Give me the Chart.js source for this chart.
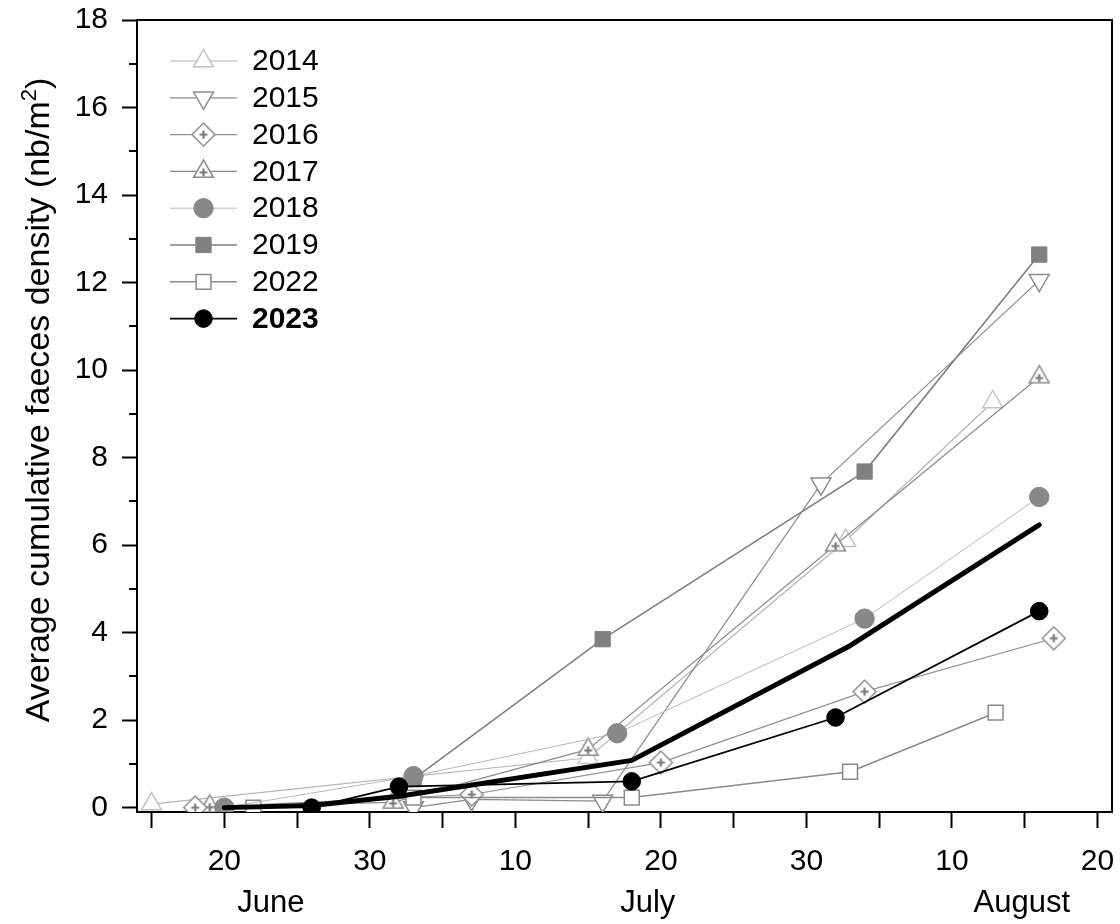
<!DOCTYPE html>
<html>
<head>
<meta charset="utf-8">
<script src="https://cdn.jsdelivr.net/npm/chart.js@4.4.1/dist/chart.umd.min.js"></script>
<style>
  html, body { margin: 0; padding: 0; background: #fff; }
  #wrap { width: 1120px; height: 924px; }
</style>
</head>
<body>
<div id="wrap"><canvas id="c" width="1120" height="924"></canvas></div>
<script>
// Day numbers on the x axis: 20 = 20 June, 30 = 30 June, 40 = "10" July, ...
const days2014 = [15, 45, 62.7, 72.8];
const vals2014 = [0.08, 1.14, 6.1, 9.27];

const days2015 = [33, 37, 46, 61, 76];
const vals2015 = [0.0, 0.19, 0.15, 7.4, 12.05];

const days2016 = [18, 37, 50, 64, 77];
const vals2016 = [0.0, 0.3, 1.03, 2.65, 3.87];

const days2017 = [19, 31.6, 45, 62, 76];
const vals2017 = [0.03, 0.12, 1.33, 6.0, 9.84];

const days2018 = [20, 33, 47, 64, 76];
const vals2018 = [0.0, 0.72, 1.7, 4.32, 7.1];

const days2019 = [33, 46, 64, 76];
const vals2019 = [0.65, 3.85, 7.68, 12.64];

const days2022 = [22, 33, 48, 63, 73];
const vals2022 = [0.0, 0.23, 0.23, 0.82, 2.17];

const days2023 = [26, 32, 48, 62, 76];
const vals2023 = [0.0, 0.48, 0.6, 2.06, 4.49];

// average of the years
const daysMean = [20, 26, 32, 48, 63, 76];
const valsMean = [0.0, 0.05, 0.26, 1.08, 3.7, 6.46];

const xTickDays = [15, 20, 25, 30, 35, 40, 45, 50, 55, 60, 65, 70, 75, 80];
const xLabelDays = [20, 30, 40, 50, 60, 70, 80];
const xLabelText = ['20', '30', '10', '20', '30', '10', '20'];
const monthDays = [23.2, 49.1, 74.8];
const monthNames = ['June', 'July', 'August'];
const yTickValues = [0, 1, 2, 3, 4, 5, 6, 7, 8, 9, 10, 11, 12, 13, 14, 15, 16, 17, 18];
const legendYears = ['2014', '2015', '2016', '2017', '2018', '2019', '2022', '2023'];
const yTitleMain = 'Average cumulative faeces density (nb/m';
const yTitleSup = '2';
const yTitleEnd = ')';

const FONT = "'Liberation Sans', Arial, sans-serif";

function pairs(xs, ys) { return xs.map((x, i) => ({ x: x, y: ys[i] })); }

// open diamond with a small cross inside
function diamondPlus(r, stroke, cross) {
  const s = Math.ceil(r * 2 + 4);
  const cv = document.createElement('canvas');
  cv.width = s; cv.height = s;
  const g = cv.getContext('2d');
  const c = s / 2;
  g.beginPath();
  g.moveTo(c, c - r); g.lineTo(c + r, c); g.lineTo(c, c + r); g.lineTo(c - r, c); g.closePath();
  g.fillStyle = '#fff'; g.fill();
  g.lineWidth = 1.5; g.strokeStyle = stroke; g.stroke();
  g.beginPath();
  g.moveTo(c - 4, c); g.lineTo(c + 4, c); g.moveTo(c, c - 4); g.lineTo(c, c + 4);
  g.lineWidth = 2.2; g.strokeStyle = cross; g.stroke();
  return cv;
}

// open triangle with a small cross inside
function trianglePlus(r, stroke, cross) {
  const s = Math.ceil(r * 2 + 4);
  const cv = document.createElement('canvas');
  cv.width = s; cv.height = s;
  const g = cv.getContext('2d');
  const c = s / 2;
  const h = r * Math.sin(Math.PI / 3);
  g.beginPath();
  g.moveTo(c, c - r); g.lineTo(c + h, c + r / 2); g.lineTo(c - h, c + r / 2); g.closePath();
  g.fillStyle = '#fff'; g.fill();
  g.lineWidth = 1.5; g.strokeStyle = stroke; g.stroke();
  g.beginPath();
  g.moveTo(c - 4, c + 1); g.lineTo(c + 4, c + 1); g.moveTo(c, c - 3); g.lineTo(c, c + 5);
  g.lineWidth = 2.2; g.strokeStyle = cross; g.stroke();
  return cv;
}

const marker2016 = diamondPlus(11.5, '#8c8c8c', '#7a7a7a');
const marker2017 = trianglePlus(11.5, '#8c8c8c', '#7a7a7a');

const datasets = [
  { label: '2023', data: pairs(days2023, vals2023), borderColor: '#000', borderWidth: 1.8,
    pointStyle: 'circle', pointRadius: 8.8, pointBackgroundColor: '#000', pointBorderColor: '#000', pointBorderWidth: 1, order: 0 },
  { label: 'Mean', data: pairs(daysMean, valsMean), borderColor: '#000', borderWidth: 5,
    borderCapStyle: 'round', borderJoinStyle: 'round', pointRadius: 0, order: 1 },
  { label: '2018', data: pairs(days2018, vals2018), borderColor: '#b8b8b8', borderWidth: 1,
    pointStyle: 'circle', pointRadius: 9.7, pointBackgroundColor: '#888', pointBorderColor: '#888', pointBorderWidth: 1, order: 2 },
  { label: '2019', data: pairs(days2019, vals2019), borderColor: '#808080', borderWidth: 1.6,
    pointStyle: 'rect', pointRadius: 10.8, pointBackgroundColor: '#808080', pointBorderColor: '#808080', pointBorderWidth: 1, order: 3 },
  { label: '2022', data: pairs(days2022, vals2022), borderColor: '#8a8a8a', borderWidth: 1.6,
    pointStyle: 'rect', pointRadius: 10.5, pointBackgroundColor: '#fff', pointBorderColor: '#8a8a8a', pointBorderWidth: 1.5, order: 4 },
  { label: '2016', data: pairs(days2016, vals2016), borderColor: '#909090', borderWidth: 1.2,
    pointStyle: marker2016, pointRadius: 11.5, order: 5 },
  { label: '2017', data: pairs(days2017, vals2017), borderColor: '#8c8c8c', borderWidth: 1.2,
    pointStyle: marker2017, pointRadius: 11.5, order: 6 },
  { label: '2015', data: pairs(days2015, vals2015), borderColor: '#8c8c8c', borderWidth: 1.2,
    pointStyle: 'triangle', pointRotation: 180, pointRadius: 11.5, pointBackgroundColor: '#fff', pointBorderColor: '#8c8c8c', pointBorderWidth: 1.5, order: 7 },
  { label: '2014', data: pairs(days2014, vals2014), borderColor: '#b4b4b4', borderWidth: 1.2,
    pointStyle: 'triangle', pointRadius: 11.5, pointBackgroundColor: '#fff', pointBorderColor: '#c4c4c4', pointBorderWidth: 1.5, order: 8 }
];
datasets.forEach(d => { d.tension = 0; d.fill = false; d.pointHoverRadius = d.pointRadius; });

// frame on top/right, short minor ticks on the y axis
const framePlugin = {
  id: 'frame',
  afterDraw(chart) {
    const { ctx, chartArea: a, scales } = chart;
    ctx.save();
    ctx.strokeStyle = '#000';
    ctx.lineWidth = 2;
    ctx.beginPath();
    ctx.moveTo(a.left, a.top); ctx.lineTo(a.right, a.top); ctx.lineTo(a.right, a.bottom);
    ctx.stroke();
    ctx.beginPath();
    yTickValues.forEach(v => {
      if (v % 2 === 1) {
        const y = Math.round(scales.y.getPixelForValue(v));
        ctx.moveTo(a.left, y); ctx.lineTo(a.left - 8, y);
      }
    });
    ctx.stroke();
    ctx.restore();
  }
};

// rotated y-axis title with a raised "2"
const yTitlePlugin = {
  id: 'yTitle',
  afterDraw(chart) {
    const ctx = chart.ctx;
    const main = '34px ' + FONT, sup = '22px ' + FONT;
    ctx.save();
    ctx.font = main;
    const w1 = ctx.measureText(yTitleMain).width;
    const w3 = ctx.measureText(yTitleEnd).width;
    ctx.font = sup;
    const w2 = ctx.measureText(yTitleSup).width;
    const total = w1 + w2 + w3;
    ctx.translate(40, 400);
    ctx.rotate(-Math.PI / 2);
    ctx.fillStyle = '#000';
    ctx.textBaseline = 'middle';
    ctx.textAlign = 'left';
    let x = -total / 2;
    ctx.font = main; ctx.fillText(yTitleMain, x, 0); x += w1;
    ctx.font = sup; ctx.fillText(yTitleSup, x, -10); x += w2;
    ctx.font = main; ctx.fillText(yTitleEnd, x, 0);
    ctx.restore();
  }
};

// key: line segment with marker, then the year
const keyPlugin = {
  id: 'seriesKey',
  afterDraw(chart) {
    const ctx = chart.ctx;
    const x0 = 170, x1 = 237, xm = 203.5, xt = 252, y0 = 61, step = 36.8;
    ctx.save();
    legendYears.forEach((yr, i) => {
      const ds = chart.data.datasets.find(d => d.label === yr);
      const y = y0 + i * step;
      ctx.beginPath();
      ctx.strokeStyle = ds.borderColor;
      ctx.lineWidth = ds.borderWidth;
      ctx.moveTo(x0, y); ctx.lineTo(x1, y);
      ctx.stroke();
      ctx.fillStyle = ds.pointBackgroundColor || '#fff';
      ctx.strokeStyle = ds.pointBorderColor || ds.borderColor;
      ctx.lineWidth = ds.pointBorderWidth || 1;
      Chart.helpers.drawPoint(ctx, {
        pointStyle: ds.pointStyle, radius: ds.pointRadius,
        rotation: ds.pointRotation || 0, borderWidth: ds.pointBorderWidth || 1
      }, xm, y);
      ctx.fillStyle = '#000';
      ctx.textBaseline = 'middle';
      ctx.textAlign = 'left';
      ctx.font = (yr === '2023' ? 'bold ' : '') + '30px ' + FONT;
      ctx.fillText(yr, xt, y + 1);
    });
    ctx.restore();
  }
};

new Chart(document.getElementById('c'), {
  type: 'line',
  data: { datasets: datasets },
  options: {
    responsive: false,
    animation: false,
    events: [],
    layout: { autoPadding: false, padding: { left: 0, right: 8, top: 20, bottom: 0 } },
    plugins: { legend: { display: false }, tooltip: { enabled: false } },
    scales: {
      x: {
        type: 'linear', position: 'bottom', min: 14, max: 81,
        afterBuildTicks: s => { s.ticks = xTickDays.map(v => ({ value: v })); },
        afterFit: s => { s.height = 64; s.paddingLeft = 0; s.paddingRight = 0; },
        ticks: {
          autoSkip: false, maxRotation: 0, color: '#000', padding: 16,
          font: { family: FONT, size: 30 },
          callback: v => { const k = xLabelDays.indexOf(v); return k >= 0 ? xLabelText[k] : ''; }
        },
        grid: { drawOnChartArea: false, tickLength: 16, tickWidth: 2, tickColor: '#000' },
        border: { color: '#000', width: 2 }
      },
      months: {
        type: 'linear', position: 'bottom', min: 14, max: 81,
        afterBuildTicks: s => { s.ticks = monthDays.map(v => ({ value: v })); },
        afterFit: s => { s.height = 48; s.paddingLeft = 0; s.paddingRight = 0; },
        ticks: {
          autoSkip: false, maxRotation: 0, color: '#000', padding: 9,
          font: { family: FONT, size: 31 },
          callback: v => { const k = monthDays.indexOf(v); return k >= 0 ? monthNames[k] : ''; }
        },
        grid: { display: false, drawTicks: false },
        border: { display: false }
      },
      y: {
        type: 'linear', position: 'left', min: -0.1, max: 18,
        afterBuildTicks: s => { s.ticks = yTickValues.map(v => ({ value: v })); },
        afterFit: s => { s.width = 137; s.paddingTop = 0; s.paddingBottom = 0; },
        ticks: {
          autoSkip: false, color: '#000', padding: 14,
          font: { family: FONT, size: 30 },
          callback: v => (v % 2 === 0 ? String(v) : '')
        },
        grid: {
          drawOnChartArea: false, tickLength: 15, tickWidth: 2,
          tickColor: c => (c.tick && c.tick.value % 2 === 0 ? '#000' : 'rgba(0,0,0,0)')
        },
        border: { color: '#000', width: 2 }
      }
    }
  },
  plugins: [framePlugin, yTitlePlugin, keyPlugin]
});
</script>
</body>
</html>
